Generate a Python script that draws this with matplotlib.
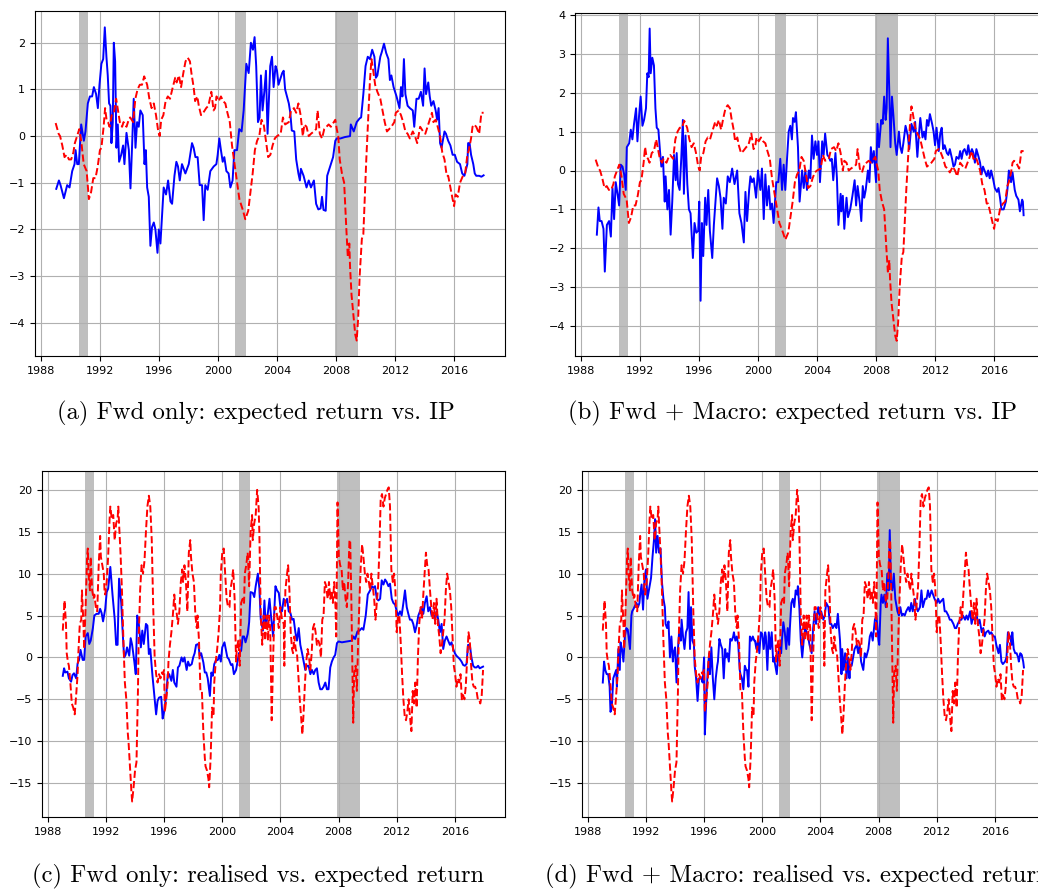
import matplotlib
matplotlib.use("Agg")
import matplotlib.pyplot as plt
import numpy as np

# NBER recessions (fractional years)
recessions = [(1990.58, 1991.17), (2001.17, 2001.88), (2007.92, 2009.47)]

# industrial production growth (same series in panels a and b)
ip = [(1989.0, 0.28), (1989.2, 0.05), (1989.3, 0.0), (1989.45, -0.2), (1989.6, -0.45), (1989.75, -0.4),
      (1989.9, -0.5), (1990.05, -0.5), (1990.2, -0.35), (1990.3, -0.15), (1990.45, 0.0), (1990.6, 0.15),
      (1990.75, -0.15), (1990.9, -0.6), (1991.1, -0.75), (1991.25, -1.35), (1991.4, -1.2), (1991.55, -0.9),
      (1991.7, -0.9), (1991.85, -0.65), (1992.0, -0.3), (1992.1, -0.25), (1992.25, 0.2), (1992.35, 0.6),
      (1992.45, 0.35), (1992.55, 0.3), (1992.65, 0.2), (1992.8, 0.45), (1992.95, 0.5), (1993.1, 0.8),
      (1993.2, 0.6), (1993.35, 0.3), (1993.5, 0.2), (1993.6, 0.3), (1993.8, 0.2), (1993.95, 0.35),
      (1994.05, 0.4), (1994.25, 0.3), (1994.4, 0.8), (1994.55, 1.0), (1994.7, 1.1), (1994.85, 1.1),
      (1995.0, 1.28), (1995.2, 1.1), (1995.35, 0.8), (1995.5, 0.6), (1995.65, 0.7), (1995.8, 0.45),
      (1995.95, 0.1), (1996.05, 0.0), (1996.15, 0.35), (1996.3, 0.45), (1996.45, 0.75), (1996.6, 0.85),
      (1996.75, 0.8), (1996.9, 1.0), (1997.1, 1.25), (1997.2, 1.15), (1997.35, 1.3), (1997.5, 1.05),
      (1997.65, 1.35), (1997.8, 1.6), (1997.95, 1.68), (1998.1, 1.6), (1998.2, 1.35), (1998.35, 1.05),
      (1998.45, 0.75), (1998.6, 0.85), (1998.7, 0.65), (1998.85, 0.45), (1999.0, 0.5), (1999.2, 0.6),
      (1999.35, 0.65), (1999.55, 0.95), (1999.7, 0.55), (1999.8, 0.6), (1999.9, 0.85), (2000.05, 0.75),
      (2000.2, 0.85), (2000.35, 0.75), (2000.5, 0.7), (2000.6, 0.55), (2000.8, 0.3), (2000.95, -0.2),
      (2001.1, -0.55), (2001.3, -1.0), (2001.45, -1.35), (2001.55, -1.45), (2001.7, -1.6), (2001.85, -1.78),
      (2002.05, -1.6), (2002.2, -1.2), (2002.35, -0.8), (2002.5, -0.3), (2002.65, -0.1), (2002.8, 0.0),
      (2002.95, 0.35), (2003.1, 0.25), (2003.25, -0.1), (2003.4, -0.45), (2003.55, -0.4), (2003.7, -0.2),
      (2003.85, -0.05), (2004.0, 0.0), (2004.25, 0.05), (2004.4, 0.4), (2004.55, 0.25), (2004.8, 0.3),
      (2004.95, 0.55), (2005.15, 0.6), (2005.3, 0.5), (2005.45, 0.7), (2005.6, 0.45), (2005.75, 0.0),
      (2005.85, 0.25), (2006.0, 0.2), (2006.15, 0.0), (2006.3, 0.05), (2006.5, 0.1), (2006.65, 0.15),
      (2006.75, 0.55), (2006.9, 0.05), (2007.05, -0.05), (2007.2, 0.15), (2007.35, 0.2), (2007.5, 0.25),
      (2007.65, 0.2), (2007.85, 0.3), (2007.95, 0.35), (2008.05, 0.15), (2008.15, 0.0), (2008.25, -0.5),
      (2008.4, -0.8), (2008.55, -1.0), (2008.7, -2.0), (2008.8, -2.6), (2008.9, -2.3), (2008.95, -2.8),
      (2009.05, -3.4), (2009.2, -3.9), (2009.3, -4.25), (2009.4, -4.38), (2009.5, -3.9), (2009.6, -3.0),
      (2009.75, -2.2), (2009.85, -2.1), (2009.95, -1.3), (2010.05, -0.5), (2010.2, 0.5), (2010.3, 1.2),
      (2010.4, 1.65), (2010.5, 1.45), (2010.65, 1.1), (2010.8, 0.95), (2011.0, 0.8), (2011.15, 0.55),
      (2011.3, 0.3), (2011.45, 0.1), (2011.6, 0.15), (2011.75, 0.2), (2011.95, 0.3), (2012.05, 0.5),
      (2012.25, 0.55), (2012.4, 0.45), (2012.55, 0.3), (2012.7, 0.1), (2012.85, 0.05), (2013.0, -0.05),
      (2013.2, 0.1), (2013.35, 0.0), (2013.5, -0.15), (2013.7, 0.2), (2013.9, 0.1), (2014.05, 0.05),
      (2014.2, 0.2), (2014.35, 0.35), (2014.5, 0.5), (2014.6, 0.3), (2014.75, 0.35), (2014.85, 0.25),
      (2015.05, 0.0), (2015.2, -0.35), (2015.35, -0.5), (2015.5, -0.85), (2015.6, -0.85), (2015.75, -1.1),
      (2015.9, -1.35), (2016.0, -1.5), (2016.1, -1.25), (2016.25, -1.3), (2016.4, -1.0), (2016.6, -0.85),
      (2016.75, -0.8), (2016.9, -0.4), (2017.0, -0.3), (2017.15, -0.05), (2017.25, 0.2), (2017.35, 0.25),
      (2017.5, 0.2), (2017.7, 0.05), (2017.85, 0.5), (2018.0, 0.5)]

# expected return, forwards only (panel a)
exp_fwd_a = [(1989.04, -1.13), (1989.22, -0.95), (1989.33, -1.05), (1989.56, -1.33), (1989.78, -1.05),
             (1989.94, -1.1), (1990.12, -0.75), (1990.28, -0.6), (1990.35, -0.3), (1990.46, -0.6),
             (1990.57, -0.6), (1990.73, 0.25), (1990.91, -0.1), (1991.02, 0.1), (1991.18, 0.7),
             (1991.32, 0.85), (1991.47, 0.85), (1991.59, 1.05), (1991.74, 0.9), (1991.86, 0.6),
             (1991.97, 1.1), (1992.1, 1.55), (1992.22, 1.65), (1992.33, 2.33), (1992.44, 1.7),
             (1992.53, 1.3), (1992.62, 0.7), (1992.71, 0.65), (1992.78, -0.15), (1992.87, 0.3),
             (1992.94, 2.0), (1993.03, 1.6), (1993.12, -0.25), (1993.21, 0.25), (1993.3, -0.55),
             (1993.44, -0.4), (1993.57, -0.2), (1993.66, -0.6), (1993.8, 0.07), (1993.96, -0.3),
             (1994.07, -1.12), (1994.18, -0.2), (1994.29, 0.8), (1994.41, -0.25), (1994.52, 0.3),
             (1994.63, 0.2), (1994.74, 0.55), (1994.9, 0.45), (1995.02, -0.6), (1995.11, -0.3),
             (1995.2, -1.1), (1995.31, -1.3), (1995.42, -2.35), (1995.53, -1.95), (1995.65, -1.85),
             (1995.76, -2.0), (1995.9, -2.5), (1995.99, -2.0), (1996.1, -2.3), (1996.21, -1.7),
             (1996.32, -1.1), (1996.48, -1.25), (1996.62, -0.95), (1996.78, -1.4), (1996.89, -1.45),
             (1997.05, -0.85), (1997.18, -0.55), (1997.29, -0.65), (1997.41, -0.95), (1997.56, -0.6),
             (1997.79, -0.8), (1998.02, -0.6), (1998.24, -0.15), (1998.35, -0.25), (1998.47, -0.45),
             (1998.62, -0.45), (1998.76, -1.05), (1998.92, -1.05), (1999.03, -1.8), (1999.14, -1.05),
             (1999.3, -1.15), (1999.48, -0.75), (1999.71, -0.65), (1999.89, -0.6), (1999.98, -0.4),
             (2000.09, -0.05), (2000.2, -0.3), (2000.32, -0.55), (2000.43, -0.45), (2000.57, -0.75),
             (2000.72, -0.8), (2000.84, -1.1), (2000.99, -0.95), (2001.11, -0.3), (2001.29, -0.3),
             (2001.44, 0.15), (2001.6, 0.1), (2001.74, 0.55), (2001.92, 1.55), (2002.08, 1.35),
             (2002.23, 2.0), (2002.37, 1.85), (2002.48, 2.12), (2002.59, 1.5), (2002.71, 0.3),
             (2002.82, 0.4), (2002.91, 1.3), (2003.02, 0.55), (2003.14, 0.95), (2003.25, 1.4),
             (2003.36, 0.05), (2003.54, 1.5), (2003.66, 1.7), (2003.77, 1.05), (2003.9, 1.5),
             (2004.0, 1.4), (2004.1, 1.1), (2004.35, 1.35), (2004.45, 1.4), (2004.55, 1.0),
             (2004.8, 0.7), (2004.9, 0.5), (2005.0, 0.12), (2005.17, 0.1), (2005.3, -0.5),
             (2005.45, -0.8), (2005.55, -0.95), (2005.62, -0.7), (2005.8, -0.85), (2006.0, -1.1),
             (2006.15, -0.95), (2006.3, -1.1), (2006.5, -0.95), (2006.65, -1.45), (2006.8, -1.57),
             (2006.95, -1.55), (2007.05, -1.3), (2007.15, -1.58), (2007.3, -1.6), (2007.4, -0.85),
             (2007.6, -0.65), (2007.8, -0.45), (2007.95, -0.1), (2008.05, -0.05), (2008.3, -0.05),
             (2008.6, -0.02), (2008.95, 0.0), (2009.0, 0.25), (2009.2, 0.1), (2009.4, 0.3),
             (2009.6, 0.38), (2009.7, 0.4), (2009.85, 0.9), (2010.0, 1.5), (2010.15, 1.7),
             (2010.3, 1.65), (2010.45, 1.85), (2010.6, 1.7), (2010.7, 1.25), (2010.8, 1.3),
             (2011.0, 1.7), (2011.1, 1.8), (2011.25, 1.98), (2011.4, 1.78), (2011.55, 1.65),
             (2011.65, 1.2), (2011.75, 1.3), (2011.9, 1.05), (2012.1, 0.85), (2012.3, 0.6),
             (2012.4, 1.05), (2012.5, 0.85), (2012.6, 1.65), (2012.7, 0.9), (2012.85, 0.65),
             (2013.0, 0.6), (2013.2, 0.55), (2013.3, 0.2), (2013.45, 0.8), (2013.6, 0.8),
             (2013.75, 0.95), (2013.9, 0.65), (2014.0, 1.45), (2014.1, 0.9), (2014.25, 1.15),
             (2014.35, 0.85), (2014.45, 0.65), (2014.6, 0.75), (2014.75, 0.55), (2014.85, 0.35),
             (2014.95, 0.6), (2015.05, -0.15), (2015.15, -0.25), (2015.35, 0.1), (2015.45, 0.05),
             (2015.6, -0.1), (2015.75, -0.2), (2015.9, -0.4), (2016.05, -0.4), (2016.2, -0.55),
             (2016.4, -0.6), (2016.55, -0.8), (2016.7, -0.85), (2016.9, -0.6), (2016.95, -0.15),
             (2017.05, -0.15), (2017.15, -0.4), (2017.3, -0.6), (2017.4, -0.8), (2017.5, -0.85),
             (2017.7, -0.85), (2017.85, -0.87), (2018.0, -0.84)]

# expected return, forwards + macro (panel b)
exp_mac_b = [(1989.08, -1.65), (1989.19, -0.95), (1989.28, -1.3), (1989.4, -1.3), (1989.53, -1.5),
             (1989.62, -2.6), (1989.76, -1.4), (1989.91, -1.3), (1990.03, -1.7), (1990.14, -0.45),
             (1990.25, -1.25), (1990.36, -0.3), (1990.48, -0.6), (1990.59, -0.9), (1990.7, 0.15),
             (1990.82, 0.1), (1990.93, -0.1), (1991.04, -0.5), (1991.11, 0.6), (1991.27, 0.7),
             (1991.38, 1.05), (1991.49, 0.8), (1991.6, 1.2), (1991.74, 1.6), (1991.83, 0.75),
             (1991.94, 1.4), (1992.05, 1.9), (1992.17, 1.15), (1992.28, 1.3), (1992.41, 1.6),
             (1992.5, 2.5), (1992.59, 2.4), (1992.66, 3.65), (1992.73, 2.5), (1992.84, 2.9),
             (1992.95, 2.7), (1993.05, 1.6), (1993.14, 1.1), (1993.25, 1.05), (1993.36, 0.5),
             (1993.45, 0.1), (1993.56, 0.35), (1993.68, -0.8), (1993.74, -0.15), (1993.86, -1.0),
             (1993.97, -0.5), (1994.08, -1.65), (1994.19, -0.8), (1994.31, 0.4), (1994.42, -0.25),
             (1994.49, 0.45), (1994.58, -0.35), (1994.69, -0.5), (1994.8, 0.3), (1994.91, 1.3),
             (1994.98, -0.6), (1995.09, 0.9), (1995.21, -0.35), (1995.32, -1.0), (1995.43, -1.1),
             (1995.59, -2.25), (1995.7, -1.35), (1995.82, -1.6), (1995.95, -1.55), (1996.02, -0.8),
             (1996.11, -3.35), (1996.2, -1.35), (1996.29, -2.2), (1996.42, -0.7), (1996.51, -1.4),
             (1996.63, -0.5), (1996.74, -1.55), (1996.9, -2.25), (1997.01, -1.4), (1997.12, -0.8),
             (1997.23, -0.2), (1997.35, -0.4), (1997.46, -0.7), (1997.59, -1.5), (1997.68, -0.7),
             (1997.82, -0.85), (1997.95, -0.15), (1998.09, -0.3), (1998.25, 0.05), (1998.41, -0.35),
             (1998.59, 0.0), (1998.74, -1.1), (1998.88, -1.35), (1999.04, -1.85), (1999.15, -0.55),
             (1999.26, -1.3), (1999.4, -0.5), (1999.49, -0.15), (1999.6, -0.3), (1999.71, -0.2),
             (1999.87, -0.7), (2000.0, 0.0), (2000.16, -0.5), (2000.27, 0.05), (2000.39, -1.25),
             (2000.5, -0.1), (2000.61, -0.9), (2000.73, -0.4), (2000.84, -1.0), (2000.95, -0.85),
             (2001.06, -1.35), (2001.24, -0.3), (2001.38, -0.3), (2001.51, 0.3), (2001.63, -0.5),
             (2001.74, 0.15), (2001.85, -0.5), (2001.96, 0.25), (2002.08, 1.0), (2002.19, 1.15),
             (2002.3, 0.8), (2002.37, 1.35), (2002.48, 1.25), (2002.57, 1.5), (2002.71, 0.6),
             (2002.82, -0.8), (2002.99, 0.0), (2003.1, -0.45), (2003.21, 0.0), (2003.32, -0.5),
             (2003.44, 0.0), (2003.55, -0.2), (2003.66, 0.9), (2003.77, 0.3), (2003.89, 0.75),
             (2004.0, 0.4), (2004.1, 0.75), (2004.2, -0.3), (2004.35, 0.75), (2004.45, 0.4),
             (2004.55, 0.95), (2004.7, 0.4), (2004.8, 0.35), (2004.9, 0.25), (2005.0, 0.3),
             (2005.1, -0.25), (2005.25, 0.45), (2005.35, -0.2), (2005.45, -1.4), (2005.6, -0.6),
             (2005.65, -1.05), (2005.75, -0.65), (2005.85, -1.5), (2006.0, -0.7), (2006.1, -1.2),
             (2006.25, -1.0), (2006.4, -0.65), (2006.55, -0.25), (2006.65, -0.9), (2006.75, -0.4),
             (2006.9, -0.85), (2007.0, -1.3), (2007.1, -0.4), (2007.2, -0.7), (2007.3, -0.5),
             (2007.45, 0.0), (2007.55, -0.3), (2007.65, 0.6), (2007.75, 0.2), (2007.85, 0.5),
             (2008.0, -0.3), (2008.1, 1.2), (2008.2, 0.6), (2008.35, 1.3), (2008.45, 1.2),
             (2008.55, 1.9), (2008.65, 1.3), (2008.72, 1.6), (2008.8, 3.4), (2008.9, 2.0),
             (2008.98, 0.6), (2009.08, 1.9), (2009.18, 1.4), (2009.3, 0.7), (2009.4, 0.4),
             (2009.55, 1.0), (2009.65, 0.6), (2009.75, 0.45), (2009.85, 0.7), (2010.0, 1.15),
             (2010.15, 0.9), (2010.25, 0.55), (2010.4, 1.2), (2010.55, 1.0), (2010.65, 1.25),
             (2010.8, 0.35), (2010.9, 0.9), (2011.0, 1.35), (2011.15, 0.85), (2011.25, 1.0),
             (2011.35, 0.8), (2011.45, 1.3), (2011.55, 1.15), (2011.65, 1.45), (2011.8, 1.2),
             (2011.9, 1.0), (2012.0, 0.65), (2012.1, 1.1), (2012.25, 0.5), (2012.35, 0.95),
             (2012.45, 1.1), (2012.55, 0.55), (2012.65, 0.65), (2012.8, 0.45), (2012.9, 0.4),
             (2013.0, 0.55), (2013.15, 0.3), (2013.25, 0.1), (2013.35, 0.15), (2013.45, 0.35),
             (2013.6, 0.3), (2013.7, 0.5), (2013.8, 0.3), (2013.9, 0.5), (2014.0, 0.55),
             (2014.15, 0.4), (2014.25, 0.65), (2014.35, 0.4), (2014.5, 0.55), (2014.6, 0.45),
             (2014.7, 0.2), (2014.8, 0.55), (2014.95, 0.35), (2015.05, 0.2), (2015.15, -0.1),
             (2015.25, 0.1), (2015.35, 0.0), (2015.5, -0.15), (2015.6, 0.0), (2015.7, -0.2),
             (2015.8, 0.0), (2015.95, -0.25), (2016.05, -0.45), (2016.2, -0.55), (2016.3, -0.45),
             (2016.4, -0.7), (2016.5, -1.0), (2016.65, -1.0), (2016.8, -0.8), (2016.9, -0.5),
             (2017.0, 0.0), (2017.15, -0.3), (2017.25, -0.05), (2017.4, -0.5), (2017.5, -0.65),
             (2017.65, -0.75), (2017.75, -1.05), (2017.9, -0.75), (2017.95, -0.8), (2018.0, -1.15)]

# realised excess return (same series in panels c and d)
realised = [(1989.03, 3.2), (1989.15, 6.8), (1989.25, 4.0), (1989.3, 0.5), (1989.38, -0.5), (1989.45, -1.0),
            (1989.55, -3.0), (1989.65, -5.5), (1989.75, -6.0), (1989.85, -6.8), (1989.95, -4.5),
            (1990.05, -2.0), (1990.1, 0.5), (1990.2, 4.0), (1990.3, 4.5), (1990.35, 8.0), (1990.45, 4.0),
            (1990.5, 1.0), (1990.6, 6.0), (1990.7, 12.0), (1990.75, 13.0), (1990.8, 10.0), (1990.9, 8.0),
            (1990.95, 12.0), (1991.05, 8.0), (1991.15, 7.0), (1991.2, 7.5), (1991.3, 6.0), (1991.4, 5.5),
            (1991.5, 11.0), (1991.6, 14.5), (1991.65, 12.0), (1991.75, 11.0), (1991.85, 10.0),
            (1991.9, 8.0), (1991.95, 7.5), (1992.05, 9.0), (1992.15, 12.0), (1992.25, 16.5),
            (1992.3, 18.0), (1992.4, 16.5), (1992.5, 17.0), (1992.6, 14.0), (1992.7, 16.0),
            (1992.8, 16.5), (1992.85, 18.0), (1992.9, 16.0), (1993.0, 12.5), (1993.1, 8.0),
            (1993.2, 2.0), (1993.3, -3.0), (1993.4, -5.0), (1993.5, -9.0), (1993.55, -10.0),
            (1993.65, -13.0), (1993.75, -16.0), (1993.8, -17.2), (1993.9, -15.5), (1994.0, -13.5),
            (1994.1, -12.5), (1994.2, -4.0), (1994.25, 2.0), (1994.35, 8.0), (1994.45, 11.0),
            (1994.55, 10.0), (1994.65, 11.5), (1994.75, 15.0), (1994.85, 18.0), (1994.95, 19.3),
            (1995.05, 18.0), (1995.15, 14.0), (1995.25, 6.0), (1995.35, 0.0), (1995.45, -2.0),
            (1995.55, -3.0), (1995.65, -2.0), (1995.75, -2.5), (1995.85, -1.8), (1995.9, -2.0),
            (1996.0, -1.5), (1996.05, -6.5), (1996.15, -5.0), (1996.25, -3.0), (1996.3, -0.5),
            (1996.4, 1.5), (1996.5, 3.0), (1996.6, 5.0), (1996.7, 7.5), (1996.8, 5.5), (1996.85, 5.5),
            (1996.95, 4.0), (1997.05, 5.5), (1997.15, 9.0), (1997.25, 10.5), (1997.3, 9.0),
            (1997.4, 11.0), (1997.5, 9.0), (1997.6, 5.5), (1997.7, 12.5), (1997.8, 14.0),
            (1997.85, 12.0), (1997.95, 10.0), (1998.05, 9.0), (1998.15, 5.0), (1998.25, 3.5),
            (1998.3, 5.0), (1998.4, 2.0), (1998.5, -4.0), (1998.6, -4.0), (1998.7, -9.0),
            (1998.8, -12.0), (1998.85, -13.0), (1998.95, -13.5), (1999.05, -14.5), (1999.1, -15.5),
            (1999.2, -12.0), (1999.3, -6.0), (1999.4, -7.0), (1999.45, -3.0), (1999.55, -0.5),
            (1999.65, 1.0), (1999.75, 3.0), (1999.85, 6.0), (1999.9, 10.0), (2000.0, 12.5),
            (2000.1, 13.0), (2000.2, 10.0), (2000.3, 7.0), (2000.4, 6.0), (2000.5, 6.0), (2000.55, 8.0),
            (2000.65, 9.0), (2000.75, 10.5), (2000.85, 7.0), (2000.95, -0.5), (2001.0, 1.0),
            (2001.1, 2.0), (2001.2, -1.0), (2001.3, 6.5), (2001.4, 7.0), (2001.5, 6.5), (2001.55, 10.0),
            (2001.65, 11.0), (2001.75, 12.5), (2001.85, 8.5), (2001.95, 15.0), (2002.05, 17.0),
            (2002.1, 14.0), (2002.2, 16.0), (2002.3, 17.0), (2002.4, 20.0), (2002.5, 18.0),
            (2002.55, 15.0), (2002.65, 5.0), (2002.75, 1.5), (2002.85, 5.0), (2002.95, 2.0),
            (2003.05, 5.0), (2003.15, 2.0), (2003.2, 5.0), (2003.3, 3.5), (2003.4, -7.5), (2003.5, 0.0),
            (2003.6, 6.0), (2003.68, 6.0), (2003.77, 5.0), (2003.89, 3.5), (2004.0, 6.0), (2004.11, 4.5),
            (2004.23, 4.0), (2004.27, -1.0), (2004.34, 8.0), (2004.46, 10.0), (2004.53, 11.0),
            (2004.62, 8.0), (2004.71, 3.0), (2004.8, 1.0), (2004.87, 0.5), (2004.96, 2.5), (2005.05, 1.0),
            (2005.14, 0.5), (2005.23, -2.0), (2005.33, -5.0), (2005.42, -7.0), (2005.51, -9.2),
            (2005.6, -6.5), (2005.69, -3.0), (2005.78, -0.5), (2005.87, 1.0), (2005.97, 0.0),
            (2006.06, -1.5), (2006.15, 0.5), (2006.24, 3.5), (2006.33, 4.0), (2006.42, 3.0),
            (2006.51, 1.5), (2006.61, 2.0), (2006.7, 1.5), (2006.79, 0.0), (2006.88, 4.5), (2006.97, 5.0),
            (2007.06, 9.0), (2007.15, 8.5), (2007.25, 7.0), (2007.34, 9.0), (2007.43, 7.0), (2007.52, 8.0),
            (2007.61, 6.5), (2007.7, 9.0), (2007.79, 6.0), (2007.84, 2.5), (2007.93, 18.5), (2008.02, 12.0),
            (2008.11, 11.0), (2008.21, 10.5), (2008.3, 8.0), (2008.39, 9.0), (2008.48, 7.0), (2008.57, 6.0),
            (2008.66, 9.0), (2008.75, 14.0), (2008.8, 14.0), (2008.87, 8.0), (2008.94, 0.0),
            (2009.01, -7.8), (2009.07, -2.0), (2009.17, -1.0), (2009.26, -4.0), (2009.35, 2.0),
            (2009.44, 7.0), (2009.53, 11.0), (2009.62, 13.5), (2009.71, 12.0), (2009.81, 10.0),
            (2009.9, 9.0), (2009.99, 10.0), (2010.08, 9.0), (2010.17, 8.0), (2010.26, 10.0),
            (2010.35, 8.5), (2010.45, 7.0), (2010.54, 4.5), (2010.63, 6.5), (2010.72, 8.5),
            (2010.81, 13.0), (2010.9, 19.0), (2010.99, 19.5), (2011.09, 18.0), (2011.18, 19.0),
            (2011.27, 19.5), (2011.36, 20.0), (2011.45, 20.3), (2011.54, 18.0), (2011.63, 10.5),
            (2011.73, 9.0), (2011.82, 10.0), (2011.91, 8.0), (2012.0, 3.0), (2012.09, 5.0), (2012.18, 5.0),
            (2012.27, 2.0), (2012.37, -2.0), (2012.46, -5.0), (2012.55, -7.0), (2012.64, -7.5),
            (2012.73, -6.5), (2012.82, -5.0), (2012.91, -7.0), (2013.01, -8.8), (2013.1, -4.0),
            (2013.19, -5.5), (2013.28, -3.0), (2013.37, -6.0), (2013.46, 0.0), (2013.55, 4.0),
            (2013.65, 6.0), (2013.74, 4.5), (2013.83, 7.5), (2013.92, 10.0), (2014.01, 12.5),
            (2014.1, 11.0), (2014.19, 10.5), (2014.29, 8.0), (2014.38, 6.0), (2014.47, 4.5),
            (2014.56, 6.5), (2014.65, 4.0), (2014.74, 7.0), (2014.83, 4.0), (2014.93, 2.5),
            (2015.02, 0.5), (2015.11, 1.5), (2015.2, 3.0), (2015.29, 4.5), (2015.38, 8.0),
            (2015.47, 10.0), (2015.57, 9.0), (2015.66, 8.0), (2015.75, 6.0), (2015.84, 2.5),
            (2015.93, -1.0), (2016.02, -2.0), (2016.11, -3.5), (2016.21, -2.5), (2016.3, -3.0),
            (2016.39, -2.0), (2016.48, -5.0), (2016.57, -4.5), (2016.66, -5.0), (2016.75, -3.5),
            (2016.85, 0.0), (2016.94, 3.0), (2017.03, 2.0), (2017.12, -1.0), (2017.21, -3.0),
            (2017.3, -3.5), (2017.39, -3.5), (2017.49, -4.0), (2017.58, -5.0), (2017.67, -5.0),
            (2017.75, -5.5), (2017.85, -4.5), (2017.94, -1.5)]

# expected return, forwards only (panel c)
exp_fwd_c = [(1989.03, -2.2), (1989.12, -1.3), (1989.2, -1.8), (1989.35, -1.7), (1989.45, -2.5), (1989.6, -2.9),
             (1989.7, -2.1), (1989.8, -1.9), (1989.95, -2.5), (1990.05, -0.7), (1990.15, -0.3), (1990.25, 0.9),
             (1990.4, -0.3), (1990.5, -0.3), (1990.6, 2.5), (1990.75, 2.9), (1990.85, 1.6), (1990.95, 2.0),
             (1991.1, 3.5), (1991.2, 5.0), (1991.35, 5.2), (1991.5, 5.2), (1991.6, 5.8), (1991.7, 5.3),
             (1991.8, 4.3), (1991.95, 5.8), (1992.05, 7.8), (1992.15, 8.2), (1992.3, 10.8), (1992.45, 7.5),
             (1992.6, 4.6), (1992.7, 1.5), (1992.8, 1.5), (1992.9, 9.4), (1993.05, 6.5), (1993.15, 3.0),
             (1993.25, 0.0), (1993.35, 0.3), (1993.45, 1.2), (1993.6, 0.2), (1993.7, 2.3), (1993.8, 1.5),
             (1993.95, -0.5), (1994.05, -2.0), (1994.15, 5.0), (1994.25, 4.2), (1994.4, 1.2), (1994.5, 3.2),
             (1994.6, 1.6), (1994.75, 4.0), (1994.85, 3.8), (1994.95, 0.4), (1995.05, 1.0), (1995.2, -2.2),
             (1995.3, -4.0), (1995.45, -6.8), (1995.55, -5.2), (1995.65, -4.8), (1995.8, -4.7),
             (1995.9, -7.3), (1996.0, -6.5), (1996.15, -4.5), (1996.25, -2.0), (1996.35, -2.0),
             (1996.5, -2.8), (1996.6, -1.5), (1996.7, -3.0), (1996.85, -3.5), (1996.95, -1.2),
             (1997.05, -1.0), (1997.2, 0.0), (1997.3, -0.5), (1997.4, 0.0), (1997.55, -1.5),
             (1997.65, -0.5), (1997.75, -1.0), (1997.9, -0.8), (1998.0, 0.0), (1998.1, 0.5), (1998.2, 1.5),
             (1998.35, 1.6), (1998.45, 0.2), (1998.55, 0.5), (1998.7, -0.6), (1998.8, -1.8), (1998.9, -1.8),
             (1999.0, -2.5), (1999.15, -4.6), (1999.25, -1.8), (1999.35, -2.2), (1999.45, -0.8),
             (1999.55, -0.4), (1999.7, -0.3), (1999.8, 0.3), (1999.9, -0.5), (2000.0, 1.2), (2000.15, 1.8),
             (2000.25, 0.9), (2000.35, 0.0), (2000.45, -0.2), (2000.6, -0.9), (2000.7, -0.8), (2000.8, -2.0),
             (2000.95, -1.5), (2001.05, -0.5), (2001.15, 0.5), (2001.3, 0.8), (2001.4, 2.5), (2001.5, 2.5),
             (2001.6, 1.8), (2001.75, 2.8), (2001.85, 4.2), (2001.95, 7.8), (2002.1, 7.7), (2002.2, 7.2),
             (2002.3, 8.5), (2002.45, 10.0), (2002.55, 8.3), (2002.65, 4.5), (2002.8, 3.2), (2002.9, 6.8),
             (2003.0, 3.5), (2003.15, 5.5), (2003.25, 7.0), (2003.35, 5.0), (2003.5, 2.5), (2003.66, 8.5),
             (2003.77, 8.0), (2003.89, 7.7), (2004.0, 6.0), (2004.11, 5.5), (2004.23, 7.0), (2004.34, 6.5),
             (2004.46, 7.0), (2004.57, 5.5), (2004.69, 5.3), (2004.8, 4.5), (2004.91, 4.6), (2005.03, 3.0),
             (2005.14, 2.0), (2005.26, 3.5), (2005.37, 1.5), (2005.49, 0.5), (2005.6, -0.5), (2005.71, -1.5),
             (2005.83, -1.0), (2005.94, -1.0), (2006.06, -2.0), (2006.17, -1.5), (2006.29, -2.0),
             (2006.4, -1.5), (2006.51, -1.3), (2006.63, -3.0), (2006.74, -3.8), (2006.86, -3.8),
             (2006.97, -3.5), (2007.09, -3.0), (2007.2, -3.8), (2007.31, -3.8), (2007.43, -1.2),
             (2007.54, -0.5), (2007.66, 0.0), (2007.77, 0.3), (2007.89, 1.7), (2008.0, 1.9), (2008.23, 1.8),
             (2008.57, 1.9), (2008.91, 2.0), (2009.03, 2.5), (2009.14, 2.2), (2009.3, 3.1), (2009.44, 3.2),
             (2009.6, 3.5), (2009.71, 3.3), (2009.87, 5.0), (2010.01, 7.5), (2010.17, 8.0), (2010.29, 8.5),
             (2010.4, 8.3), (2010.51, 8.5), (2010.63, 7.0), (2010.74, 6.8), (2010.86, 7.0), (2010.97, 9.2),
             (2011.09, 8.7), (2011.2, 9.3), (2011.31, 9.0), (2011.43, 8.5), (2011.54, 8.8), (2011.66, 7.0),
             (2011.77, 6.5), (2011.89, 6.3), (2012.0, 5.5), (2012.11, 5.0), (2012.23, 5.5), (2012.34, 5.0),
             (2012.46, 6.5), (2012.57, 8.0), (2012.69, 6.0), (2012.8, 5.2), (2012.91, 4.5), (2013.03, 4.5),
             (2013.14, 4.0), (2013.26, 3.0), (2013.37, 3.8), (2013.49, 5.0), (2013.6, 5.5), (2013.71, 6.0),
             (2013.83, 5.2), (2013.94, 6.5), (2014.06, 7.3), (2014.17, 5.5), (2014.29, 6.0), (2014.4, 5.0),
             (2014.51, 5.2), (2014.63, 4.5), (2014.74, 5.5), (2014.86, 4.5), (2014.97, 3.0), (2015.09, 4.0),
             (2015.2, 1.0), (2015.31, 2.0), (2015.43, 2.5), (2015.54, 2.0), (2015.66, 1.5), (2015.77, 1.8),
             (2015.89, 1.0), (2016.0, 0.5), (2016.11, 0.2), (2016.23, 0.0), (2016.34, -0.2), (2016.46, -0.5),
             (2016.57, -0.9), (2016.69, -1.0), (2016.8, -0.8), (2016.91, 1.5), (2017.03, 1.5), (2017.14, 0.0),
             (2017.26, -1.0), (2017.37, -1.2), (2017.49, -1.2), (2017.6, -1.0), (2017.71, -1.3),
             (2017.83, -1.2), (2017.94, -1.1)]

# expected return, forwards + macro (panel d)
exp_mac_d = [(1989.03, -3.0), (1989.12, -0.5), (1989.2, -1.5), (1989.3, -2.0), (1989.4, -2.0), (1989.5, -3.5),
             (1989.56, -6.5), (1989.65, -6.0), (1989.75, -2.5), (1989.85, -2.0), (1989.95, -1.5), (1990.0, -3.5),
             (1990.1, 1.0), (1990.2, -1.5), (1990.25, 1.8), (1990.35, 1.0), (1990.45, -0.5), (1990.55, 2.5),
             (1990.65, 3.5), (1990.75, 3.3), (1990.8, 2.5), (1990.9, 1.0), (1991.0, 5.0), (1991.05, 5.5),
             (1991.15, 5.8), (1991.25, 6.2), (1991.35, 6.5), (1991.45, 6.0), (1991.55, 6.5), (1991.6, 7.5),
             (1991.7, 8.7), (1991.8, 5.7), (1991.9, 9.5), (1992.0, 10.5), (1992.1, 7.0), (1992.15, 7.5),
             (1992.25, 8.5), (1992.35, 9.5), (1992.45, 12.0), (1992.55, 14.0), (1992.63, 16.5), (1992.7, 12.5),
             (1992.8, 14.5), (1992.9, 12.5), (1993.0, 13.0), (1993.1, 9.0), (1993.2, 7.0), (1993.3, 6.0),
             (1993.35, 4.0), (1993.45, 3.5), (1993.55, 4.3), (1993.65, 0.0), (1993.75, 2.5), (1993.85, -0.5),
             (1993.9, 0.5), (1994.0, 1.2), (1994.1, -3.0), (1994.2, 1.0), (1994.3, 3.5), (1994.4, 2.0),
             (1994.45, 4.5), (1994.55, 2.5), (1994.65, 1.0), (1994.75, 3.0), (1994.85, 3.5), (1994.93, 7.8),
             (1995.03, 1.0), (1995.1, 6.0), (1995.2, 2.0), (1995.3, 1.5), (1995.35, -1.0), (1995.45, -2.5),
             (1995.55, -5.2), (1995.65, -2.5), (1995.75, -2.5), (1995.8, -2.5), (1995.9, -3.0), (1996.0, 0.0),
             (1996.05, -9.2), (1996.15, -5.0), (1996.25, -1.5), (1996.35, 0.5), (1996.4, -2.0), (1996.5, 1.2),
             (1996.6, -2.5), (1996.7, -5.0), (1996.8, -2.5), (1996.9, -1.0), (1996.95, -0.5), (1997.05, 2.2),
             (1997.15, 1.5), (1997.25, 1.0), (1997.35, -2.5), (1997.45, 1.0), (1997.5, 0.0), (1997.6, 0.5),
             (1997.7, -0.5), (1997.8, 2.2), (1997.9, 2.0), (1998.0, 2.5), (1998.05, 3.0), (1998.15, 2.0),
             (1998.25, 2.5), (1998.35, 1.5), (1998.45, -1.5), (1998.5, -2.0), (1998.6, -2.5), (1998.7, -3.8),
             (1998.8, -1.0), (1998.9, -1.5), (1998.95, -1.5), (1999.05, -3.5), (1999.15, 2.5), (1999.25, 2.0),
             (1999.35, 2.5), (1999.45, 2.0), (1999.5, 2.0), (1999.6, 1.0), (1999.7, 2.0), (1999.8, 0.5),
             (1999.9, 3.0), (2000.0, 2.8), (2000.1, 1.0), (2000.2, 3.0), (2000.25, 2.5), (2000.35, -1.5),
             (2000.45, 3.0), (2000.55, 1.0), (2000.65, 3.0), (2000.75, -0.5), (2000.8, 0.0), (2000.9, -1.0),
             (2001.0, -2.0), (2001.1, 0.5), (2001.2, 1.5), (2001.3, 0.5), (2001.35, 2.0), (2001.45, 4.2),
             (2001.55, 3.0), (2001.65, 1.0), (2001.75, 3.5), (2001.85, 1.5), (2001.9, 3.5), (2002.0, 6.5),
             (2002.1, 7.0), (2002.2, 6.0), (2002.3, 8.0), (2002.4, 7.5), (2002.45, 8.5), (2002.55, 6.0),
             (2002.65, 2.0), (2002.75, 0.0), (2002.85, 2.0), (2002.95, 3.5), (2003.05, 3.0), (2003.15, 2.5),
             (2003.25, 1.5), (2003.4, 0.5), (2003.5, 3.5), (2003.6, 5.5), (2003.7, 4.0), (2003.85, 6.0),
             (2003.95, 5.0), (2004.05, 5.5), (2004.2, 4.5), (2004.3, 5.0), (2004.4, 6.5), (2004.55, 6.0),
             (2004.65, 4.0), (2004.75, 4.0), (2004.85, 3.5), (2005.0, 4.0), (2005.1, 3.5), (2005.2, 5.2),
             (2005.35, 2.0), (2005.45, -2.0), (2005.5, 1.0), (2005.6, -1.5), (2005.7, 0.5), (2005.8, -2.5),
             (2005.9, 0.0), (2006.0, -2.5), (2006.05, -1.0), (2006.15, -1.0), (2006.25, 0.0), (2006.35, 1.0),
             (2006.5, 1.5), (2006.6, 0.5), (2006.7, 1.5), (2006.8, -0.5), (2006.95, -1.5), (2007.05, 0.5),
             (2007.15, 0.0), (2007.3, 1.0), (2007.4, 2.5), (2007.5, 3.0), (2007.6, 2.0), (2007.75, 4.5),
             (2007.85, 5.0), (2008.0, 2.0), (2008.05, 1.5), (2008.15, 6.5), (2008.2, 7.5), (2008.3, 6.5),
             (2008.4, 7.5), (2008.5, 6.0), (2008.6, 10.0), (2008.7, 8.0), (2008.77, 15.2), (2008.85, 9.0),
             (2008.95, 8.0), (2009.05, 10.0), (2009.15, 7.0), (2009.25, 6.0), (2009.3, 5.5), (2009.4, 5.0),
             (2009.5, 6.0), (2009.6, 5.0), (2009.7, 5.2), (2009.8, 5.0), (2009.9, 5.5), (2010.05, 6.0),
             (2010.15, 5.5), (2010.25, 6.5), (2010.35, 5.5), (2010.5, 7.0), (2010.6, 6.0), (2010.7, 5.5),
             (2010.85, 6.0), (2010.95, 8.0), (2011.05, 6.0), (2011.2, 7.0), (2011.3, 7.0), (2011.4, 8.0),
             (2011.5, 7.2), (2011.65, 8.0), (2011.75, 7.5), (2011.85, 7.0), (2012.0, 6.5), (2012.1, 7.0),
             (2012.2, 6.5), (2012.35, 6.8), (2012.45, 7.0), (2012.55, 5.5), (2012.65, 5.5), (2012.8, 5.0),
             (2012.9, 4.5), (2013.0, 4.5), (2013.15, 4.0), (2013.25, 3.5), (2013.35, 3.5), (2013.45, 4.0),
             (2013.6, 4.5), (2013.7, 4.5), (2013.8, 5.0), (2013.95, 4.5), (2014.05, 5.0), (2014.15, 4.5),
             (2014.3, 5.5), (2014.4, 4.0), (2014.5, 4.8), (2014.6, 4.5), (2014.75, 5.0), (2014.85, 4.0),
             (2014.95, 4.5), (2015.1, 3.0), (2015.2, 3.5), (2015.3, 2.5), (2015.4, 3.0), (2015.55, 3.2),
             (2015.65, 2.8), (2015.75, 3.0), (2015.9, 2.5), (2016.0, 2.5), (2016.1, 1.5), (2016.25, 0.5),
             (2016.35, 1.5), (2016.45, -0.5), (2016.55, -0.8), (2016.7, -0.5), (2016.8, 0.0), (2016.9, 3.0),
             (2017.05, 2.5), (2017.15, 1.5), (2017.2, 3.0), (2017.3, 1.0), (2017.4, 0.5), (2017.5, 0.5),
             (2017.6, 0.0), (2017.65, -0.5), (2017.75, 0.5), (2017.85, 0.3), (2017.95, -0.5), (2018.0, -1.2)]

captions = ["(a) Fwd only: expected return vs. IP",
            "(b) Fwd + Macro: expected return vs. IP",
            "(c) Fwd only: realised vs. expected return",
            "(d) Fwd + Macro: realised vs. expected return"]

W, H = 1038, 890
fig = plt.figure(figsize=(W / 100, H / 100), dpi=100)


def add_ax(left, top, right, bottom):
    return fig.add_axes([left / W, 1 - bottom / H, (right - left) / W, (bottom - top) / H])


def draw(ax, blue, red, ylim, yticks):
    for a, b in recessions:
        ax.axvspan(a, b, color="gray", alpha=0.5, lw=0)
    t, v = zip(*blue)
    ax.plot(t, v, color="b", lw=1.4)
    t, v = zip(*red)
    ax.plot(t, v, "r--", lw=1.4)
    ax.set_xlim(1987.6, 2019.45)
    ax.set_ylim(*ylim)
    ax.set_xticks(np.arange(1988, 2017, 4))
    ax.set_yticks(yticks)
    ax.grid(True)
    ax.tick_params(labelsize=8)


ax_a = add_ax(35, 11, 505, 356)
draw(ax_a, exp_fwd_a, ip, (-4.71, 2.68), np.arange(-4, 3))
ax_b = add_ax(575, 13, 1045, 356)
draw(ax_b, exp_mac_b, ip, (-4.77, 4.05), np.arange(-4, 5))
ax_c = add_ax(42, 471, 505, 817)
draw(ax_c, exp_fwd_c, realised, (-19.05, 22.25), np.arange(-15, 21, 5))
ax_d = add_ax(582, 471, 1045, 817)
draw(ax_d, exp_mac_d, realised, (-19.05, 22.25), np.arange(-15, 21, 5))

cap_kw = dict(fontfamily="cmr10", fontsize=17.8, va="center")
fig.text(256 / W, 1 - 413 / H, captions[0], ha="center", **cap_kw)
fig.text(793 / W, 1 - 413 / H, captions[1], ha="center", **cap_kw)
fig.text(258 / W, 1 - 876 / H, captions[2], ha="center", **cap_kw)
fig.text(545 / W, 1 - 876 / H, captions[3], ha="left", **cap_kw)

fig.savefig("out.png", dpi=100)
